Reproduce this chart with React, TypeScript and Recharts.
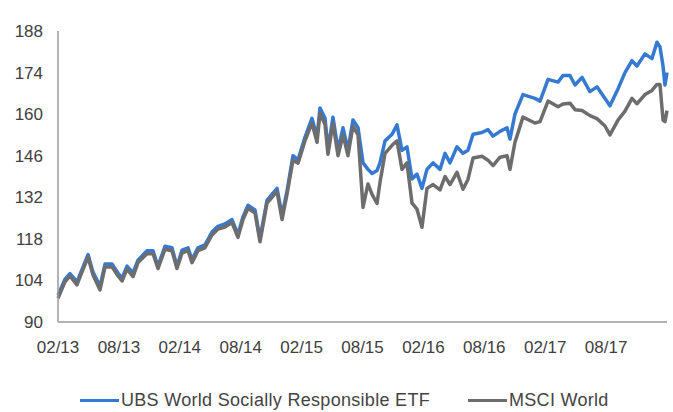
import { LineChart, Line, XAxis, YAxis, Legend } from "recharts";

// Months elapsed since Feb 2013 for each sampled point
const months = [
  0, 0.69, 1.18, 1.87, 2.36, 2.96, 3.45, 4.14, 4.63, 5.32, 5.91, 6.31, 6.8, 7.39,
  7.88, 8.77, 9.36, 9.85, 10.54, 11.23, 11.72, 12.22, 12.81, 13.2, 13.79, 14.48,
  15.17, 15.76, 16.45, 17.14, 17.73, 18.23, 18.72, 19.41, 19.9, 20.59, 21.08,
  21.58, 22.07, 22.56, 23.15, 23.65, 24.33, 25.02, 25.52, 25.81, 26.31, 26.6,
  27.09, 27.59, 28.08, 28.57, 29.06, 29.56, 30.05, 30.54, 30.94, 31.43, 31.72,
  32.22, 32.91, 33.4, 33.89, 34.38, 34.88, 35.37, 35.86, 36.35, 36.95, 37.64,
  38.13, 38.62, 39.31, 39.9, 40.39, 40.89, 41.77, 42.36, 42.86, 43.55, 44.24,
  44.53, 45.02, 45.81, 46.99, 47.49, 48.28, 49.26, 49.75, 50.44, 50.94, 51.63,
  52.41, 53.1, 53.89, 54.38, 55.17, 55.86, 56.55, 57.04, 57.83, 58.52, 59.01,
  59.31, 59.61, 59.8, 60,
];

const ubsEtf = [
  99, 104.4, 106.3, 103.5, 107.6, 112.7, 106.8, 102, 109.5, 109.5, 106.5, 104.8,
  108.8, 106.5, 110.8, 114, 114, 108.8, 115.5, 115, 108.8, 114.2, 115, 111, 115,
  116, 120.3, 122.2, 123, 124.5, 119.5, 125.5, 129.3, 127.7, 118, 131, 133, 135,
  126, 134, 146, 144.6, 152.2, 158.6, 152.2, 162.1, 158.6, 148, 159, 148, 155.4,
  148, 158, 155.4, 143.6, 141.4, 140, 141, 143.6, 151, 153.2, 156.4, 147.8, 149,
  138.2, 139.8, 135, 141.4, 143.6, 141.4, 146.8, 143.6, 149, 146.8, 147.8, 153.2,
  153.8, 154.8, 152.6, 154.2, 155.4, 151.6, 160, 166.6, 165.3, 164.4, 171.7,
  170.8, 173, 173, 169.8, 172.4, 167.6, 169.2, 165.3, 162.8, 168.5, 174, 178,
  176.2, 180.3, 178.7, 184.2, 182.6, 176.2, 169.8, 174,
];

const msciWorld = [
  98, 103.5, 105.5, 102.5, 106.8, 111.8, 105.8, 100.8, 108.5, 108.6, 105.5, 103.8,
  107.8, 105.3, 110, 113, 113, 108, 114.5, 114, 108, 113.2, 114, 110, 114, 115,
  119.3, 121.3, 122, 123.5, 118.5, 124.5, 128.3, 126.7, 117, 130, 132, 134, 124.5,
  133, 144.5, 143.5, 151, 157, 150.5, 160.3, 156.5, 146.5, 157, 146, 153, 146,
  156, 153, 128.6, 136.5, 133, 129.9, 137, 146.8, 149.5, 151, 141.4, 143.6, 130,
  128, 121.9, 135, 136.3, 134.5, 139, 136.3, 140.4, 134.7, 138, 145.2, 145.8,
  144.5, 142.7, 145.5, 146, 141.4, 150.5, 159, 157, 157.5, 164.4, 162.5, 163.4,
  163.7, 161.5, 161.2, 159.5, 158.5, 156, 153, 158, 161, 165.3, 163.5, 166.6,
  168, 170, 170, 158, 157.5, 161.2,
];

const xTicks = [0, 6, 12, 18, 24, 30, 36, 42, 48, 54];
const xTickLabels = ["02/13", "08/13", "02/14", "08/14", "02/15", "08/15", "02/16", "08/16", "02/17", "08/17"];
const yTicks = [90, 104, 118, 132, 146, 160, 174, 188];

const UBS_NAME = "UBS World Socially Responsible ETF";
const MSCI_NAME = "MSCI World";
const BLUE = "#3679d0";
const GRAY = "#6d6d6d";
const FONT = "'Liberation Sans', Arial, sans-serif";

const data = months.map((m, i) => ({ m, ubs: ubsEtf[i], msci: msciWorld[i] }));

function LegendRow() {
  const items = [
    { name: UBS_NAME, color: BLUE, left: 80 },
    { name: MSCI_NAME, color: GRAY, left: 468 },
  ];
  return (
    <div style={{ position: "relative", height: 24, width: 673 }}>
      {items.map((it) => (
        <div
          key={it.name}
          style={{ position: "absolute", left: it.left, top: 0, display: "flex", alignItems: "center", height: 24 }}
        >
          <span style={{ display: "inline-block", width: 39, height: 3, background: it.color }} />
          <span style={{ marginLeft: 2, fontFamily: FONT, fontSize: 18, color: "#444", letterSpacing: 0.3 }}>
            {it.name}
          </span>
        </div>
      ))}
    </div>
  );
}

export default function App() {
  return (
    <div style={{ position: "absolute", left: 0, top: 0, width: 673, height: 412, background: "#fff" }}>
      <LineChart width={673} height={412} data={data} margin={{ top: 31, right: 6, bottom: 0, left: 0 }}>
        <XAxis
          dataKey="m"
          type="number"
          domain={[0, 60]}
          ticks={xTicks}
          tickFormatter={(v: number) => xTickLabels[xTicks.indexOf(v)] ?? ""}
          tickLine={false}
          tickMargin={13}
          axisLine={{ stroke: "#9a9a9a", strokeWidth: 1.5 }}
          tick={{ fontSize: 17, fill: "#404040", fontFamily: FONT }}
          height={66}
          interval={0}
        />
        <YAxis
          domain={[90, 188]}
          ticks={yTicks}
          tickLine={false}
          tickMargin={9}
          width={58}
          axisLine={{ stroke: "#9a9a9a", strokeWidth: 1.5 }}
          tick={{ fontSize: 17, fill: "#404040", fontFamily: FONT }}
          interval={0}
        />
        <Legend
          verticalAlign="bottom"
          wrapperStyle={{ left: 0, bottom: 0, width: 673, height: 24 }}
          content={() => <LegendRow />}
        />
        <Line
          type="linear"
          dataKey="ubs"
          name={UBS_NAME}
          stroke={BLUE}
          strokeWidth={3.5}
          strokeLinejoin="round"
          dot={false}
          isAnimationActive={false}
        />
        <Line
          type="linear"
          dataKey="msci"
          name={MSCI_NAME}
          stroke={GRAY}
          strokeWidth={3.5}
          strokeLinejoin="round"
          dot={false}
          isAnimationActive={false}
        />
      </LineChart>
    </div>
  );
}
